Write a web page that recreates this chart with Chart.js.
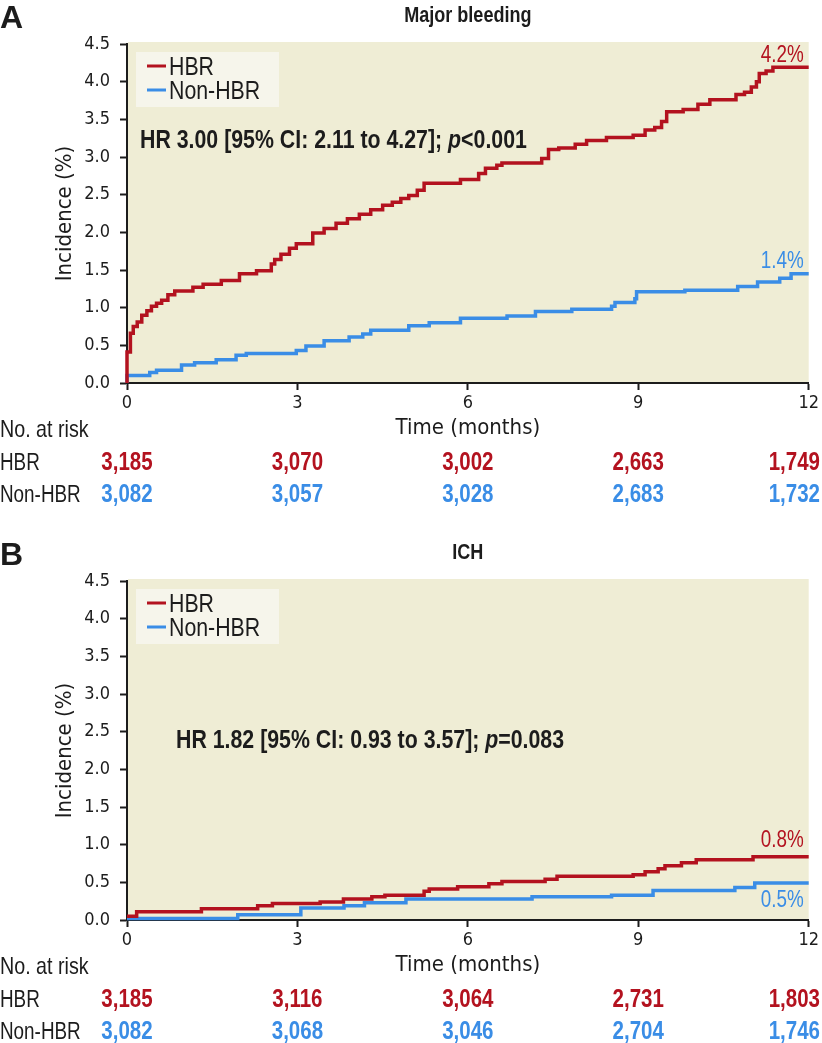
<!DOCTYPE html>
<html>
<head>
<meta charset="utf-8">
<title>Major bleeding and ICH</title>
<script src="https://cdn.jsdelivr.net/npm/chart.js@4.4.1/dist/chart.umd.min.js"></script>
<style>
    body { margin: 0; background: #fff; }
    canvas { display: block; }
</style>
</head>
<body>
<canvas id="chartA" width="822" height="537"></canvas>
<canvas id="chartB" width="822" height="506"></canvas>
<script>
const RED = '#b3121f';
const BLUE = '#3a8de6';
const INK = '#1c1c1c';
const BEIGE = '#efedd5';
const LEGEND_BG = '#f6f5eb';
const CONDENSED = '"DejaVu Sans Condensed", "Liberation Sans Narrow", sans-serif';
const SANS = '"Liberation Sans", Arial, sans-serif';
const SQUEEZE = 0.82; // Liberation Sans squeezed horizontally ~ a narrow face

const groupNames = ['HBR', 'Non-HBR'];
const riskMonths = [0, 3, 6, 9, 12];

// Panel A - major bleeding: [month, cumulative incidence %]
const majorHbr = [
    [0, 0], [0, 0.41], [0.06, 0.66], [0.11, 0.75], [0.18, 0.81], [0.26, 0.90], [0.35, 0.96],
    [0.43, 1.02], [0.52, 1.06], [0.61, 1.10], [0.72, 1.17], [0.84, 1.22], [1.16, 1.27],
    [1.34, 1.31], [1.66, 1.36], [1.98, 1.45], [2.28, 1.49], [2.54, 1.58], [2.60, 1.64],
    [2.71, 1.71], [2.86, 1.79], [2.98, 1.85], [3.27, 1.99], [3.47, 2.05], [3.68, 2.12],
    [3.88, 2.18], [4.09, 2.24], [4.29, 2.30], [4.50, 2.36], [4.67, 2.40], [4.82, 2.45],
    [4.96, 2.49], [5.11, 2.56], [5.23, 2.65], [5.87, 2.70], [6.19, 2.78], [6.31, 2.85],
    [6.51, 2.89], [6.60, 2.92], [7.30, 2.98], [7.42, 3.10], [7.60, 3.12], [7.89, 3.17],
    [8.09, 3.22], [8.44, 3.26], [8.91, 3.29], [9.12, 3.36], [9.29, 3.39], [9.41, 3.47],
    [9.50, 3.60], [9.79, 3.63], [10.05, 3.70], [10.26, 3.76], [10.72, 3.83], [10.87, 3.86],
    [10.99, 3.93], [11.08, 4.00], [11.13, 4.11], [11.25, 4.14], [11.37, 4.19], [12, 4.19]
];
const majorNonHbr = [
    [0, 0], [0, 0.10], [0.40, 0.14], [0.52, 0.17], [0.96, 0.24], [1.19, 0.27], [1.57, 0.31],
    [1.92, 0.37], [2.10, 0.39], [2.98, 0.43], [3.15, 0.49], [3.47, 0.56], [3.91, 0.61],
    [4.15, 0.65], [4.29, 0.70], [4.96, 0.76], [5.32, 0.80], [5.87, 0.86], [6.69, 0.89],
    [7.19, 0.95], [7.83, 0.98], [8.53, 1.02], [8.59, 1.07], [8.94, 1.12], [8.97, 1.21],
    [9.82, 1.23], [10.75, 1.28], [11.10, 1.34], [11.49, 1.39], [11.69, 1.45], [12, 1.45]
];
const majorRiskHbr = [3185, 3070, 3002, 2663, 1749];
const majorRiskNonHbr = [3082, 3057, 3028, 2683, 1732];

// Panel B - ICH
const ichHbr = [
    [0, 0.05], [0.17, 0.11], [1.31, 0.15], [2.30, 0.19], [2.56, 0.22], [3.40, 0.24],
    [3.81, 0.28], [4.31, 0.31], [4.54, 0.33], [5.23, 0.38], [5.32, 0.41], [5.82, 0.44],
    [6.37, 0.48], [6.60, 0.51], [7.36, 0.54], [7.57, 0.58], [8.91, 0.60], [9.12, 0.64],
    [9.35, 0.68], [9.47, 0.72], [9.76, 0.76], [10.02, 0.80], [11.02, 0.84], [12, 0.84]
];
const ichNonHbr = [
    [0, 0.02], [1.95, 0.07], [3.06, 0.16], [3.82, 0.19], [4.18, 0.23], [4.91, 0.28],
    [7.13, 0.31], [8.53, 0.33], [9.26, 0.39], [10.70, 0.43], [11.05, 0.49], [12, 0.49]
];
const ichRiskHbr = [3185, 3116, 3064, 2731, 1803];
const ichRiskNonHbr = [3082, 3068, 3046, 2704, 1746];

// text in a squeezed sans, returns drawn width
function narrowText(ctx, text, x, y, font, align = 'left') {
    ctx.save();
    ctx.font = font;
    const w = ctx.measureText(text).width * SQUEEZE;
    const left = align === 'center' ? x - w / 2 : align === 'right' ? x - w : x;
    ctx.translate(left, y);
    ctx.scale(SQUEEZE, 1);
    ctx.textAlign = 'left';
    ctx.fillText(text, 0, 0);
    ctx.restore();
    return w;
}

function narrowWidth(ctx, text, font) {
    ctx.save();
    ctx.font = font;
    const w = ctx.measureText(text).width * SQUEEZE;
    ctx.restore();
    return w;
}

// Draws panel letter, title, background, legend, HR text, end labels and the at-risk table
const kmDecor = {
    id: 'kmDecor',
    beforeDraw(chart) {
        const { ctx, chartArea: a } = chart;
        ctx.save();
        ctx.fillStyle = BEIGE;
        ctx.fillRect(a.left + 1, a.top - 2, a.right - a.left - 1, a.bottom - a.top + 2);
        ctx.restore();
    },
    beforeDatasetsDraw(chart) {
        const { ctx, chartArea: a } = chart;
        ctx.save();
        ctx.fillStyle = LEGEND_BG;
        ctx.fillRect(a.left + 9, a.top + 8, 143, 55);
        ctx.textBaseline = 'alphabetic';
        chart.data.datasets.forEach((ds, i) => {
            const y = a.top + 22 + i * 24;
            ctx.strokeStyle = ds.borderColor;
            ctx.lineWidth = 3;
            ctx.beginPath();
            ctx.moveTo(a.left + 20, y);
            ctx.lineTo(a.left + 39, y);
            ctx.stroke();
            ctx.fillStyle = INK;
            narrowText(ctx, ds.label, a.left + 42, y + 9, `26px ${SANS}`);
        });
        ctx.restore();
    },
    afterDatasetsDraw(chart, args, opts) {
        const { ctx, chartArea: a, scales: { y } } = chart;
        ctx.save();
        ctx.textBaseline = 'alphabetic';
        // hazard ratio line
        let hx = a.left + opts.hrAt.x;
        const hy = a.top + opts.hrAt.y;
        ctx.fillStyle = INK;
        opts.hr.forEach(part => {
            hx += narrowText(ctx, part.text, hx, hy, `${part.italic ? 'italic ' : ''}bold 26px ${SANS}`);
        });
        // end-of-curve percentages
        chart.data.datasets.forEach((ds, i) => {
            const last = ds.data[ds.data.length - 1];
            ctx.fillStyle = ds.borderColor;
            narrowText(ctx, opts.endLabels[i].text, a.right - 5,
                y.getPixelForValue(last.y) + opts.endLabels[i].dy, `23px ${SANS}`, 'right');
        });
        ctx.restore();
    },
    afterDraw(chart, args, opts) {
        const { ctx, chartArea: a, scales: { x } } = chart;
        ctx.save();
        ctx.fillStyle = INK;
        ctx.textBaseline = 'alphabetic';
        ctx.textAlign = 'left';
        ctx.font = `bold 32px ${SANS}`;
        ctx.fillText(opts.letter, 0, 28);

        narrowText(ctx, opts.title, (a.left + a.right) / 2, 22, `bold 22px ${SANS}`, 'center');
        narrowText(ctx, 'No. at risk', 0, 437, `24px ${SANS}`);

        const rowY = [470, 502];
        const colors = [RED, BLUE];
        const numFont = `bold 25px ${SANS}`;
        opts.risk.forEach((row, r) => {
            ctx.fillStyle = INK;
            narrowText(ctx, groupNames[r], 0, rowY[r], `23px ${SANS}`);
            ctx.fillStyle = colors[r];
            row.forEach((n, i) => {
                const label = n.toLocaleString('en-US');
                const w = narrowWidth(ctx, label, numFont);
                let cx = x.getPixelForValue(riskMonths[i]);
                if (cx + w / 2 > chart.width - 2) cx = chart.width - 2 - w / 2;
                narrowText(ctx, label, cx, rowY[r], numFont, 'center');
            });
        });
        ctx.restore();
    }
};

function toXY(points) {
    return points.map(([t, v]) => ({ x: t, y: v }));
}

function makeChart(canvasId, cfg) {
    const canvas = document.getElementById(canvasId);
    const h = canvas.height;
    const line = color => ({
        borderColor: color,
        backgroundColor: color,
        borderWidth: 3.5,
        stepped: true,
        pointRadius: 0,
        fill: false,
        clip: 4,
        borderCapStyle: 'butt',
        borderJoinStyle: 'miter'
    });
    const axisGrid = {
        display: true,
        drawOnChartArea: false,
        drawTicks: true,
        tickLength: 7,
        tickWidth: 2,
        tickColor: INK
    };

    return new Chart(canvas, {
        type: 'line',
        data: {
            datasets: [
                { label: groupNames[0], data: toXY(cfg.hbr), ...line(RED) },
                { label: groupNames[1], data: toXY(cfg.nonHbr), ...line(BLUE) }
            ]
        },
        options: {
            responsive: false,
            animation: false,
            events: [],
            layout: { padding: { left: 52, right: 11, top: 44, bottom: 0 } },
            scales: {
                x: {
                    type: 'linear',
                    min: 0,
                    max: 12,
                    afterFit: s => { s.height = h - 383; },
                    grid: axisGrid,
                    border: { display: true, color: INK, width: 2 },
                    ticks: {
                        stepSize: 3,
                        padding: 3,
                        color: INK,
                        font: { family: CONDENSED, size: 18 }
                    },
                    title: {
                        display: true,
                        text: 'Time (months)',
                        color: INK,
                        font: { family: CONDENSED, size: 22 },
                        padding: { top: 0, bottom: h - 428 - 13.2 }
                    }
                },
                y: {
                    min: 0,
                    max: 4.5,
                    afterFit: s => { s.width = 75; },
                    grid: axisGrid,
                    border: { display: true, color: INK, width: 2 },
                    ticks: {
                        stepSize: 0.5,
                        padding: 10,
                        color: INK,
                        font: { family: CONDENSED, size: 18 },
                        callback: v => v.toFixed(1)
                    },
                    title: {
                        display: true,
                        text: 'Incidence (%)',
                        color: INK,
                        font: { family: CONDENSED, size: 22 },
                        padding: { top: 0, bottom: 0 }
                    }
                }
            },
            plugins: {
                legend: { display: false },
                tooltip: { enabled: false },
                kmDecor: cfg.decor
            }
        },
        plugins: [kmDecor]
    });
}

document.addEventListener('DOMContentLoaded', () => {
    const charts = {};

    charts.major = makeChart('chartA', {
        hbr: majorHbr,
        nonHbr: majorNonHbr,
        decor: {
            letter: 'A',
            title: 'Major bleeding',
            hr: [
                { text: 'HR 3.00 [95% CI: 2.11 to 4.27]; ' },
                { text: 'p', italic: true },
                { text: '<0.001' }
            ],
            hrAt: { x: 13, y: 104 },
            endLabels: [{ text: '4.2%', dy: -5 }, { text: '1.4%', dy: -6 }],
            risk: [majorRiskHbr, majorRiskNonHbr]
        }
    });

    charts.ich = makeChart('chartB', {
        hbr: ichHbr,
        nonHbr: ichNonHbr,
        decor: {
            letter: 'B',
            title: 'ICH',
            hr: [
                { text: 'HR 1.82 [95% CI: 0.93 to 3.57]; ' },
                { text: 'p', italic: true },
                { text: '=0.083' }
            ],
            hrAt: { x: 49, y: 167 },
            endLabels: [{ text: '0.8%', dy: -10 }, { text: '0.5%', dy: 24 }],
            risk: [ichRiskHbr, ichRiskNonHbr]
        }
    });
});
</script>
</body>
</html>
